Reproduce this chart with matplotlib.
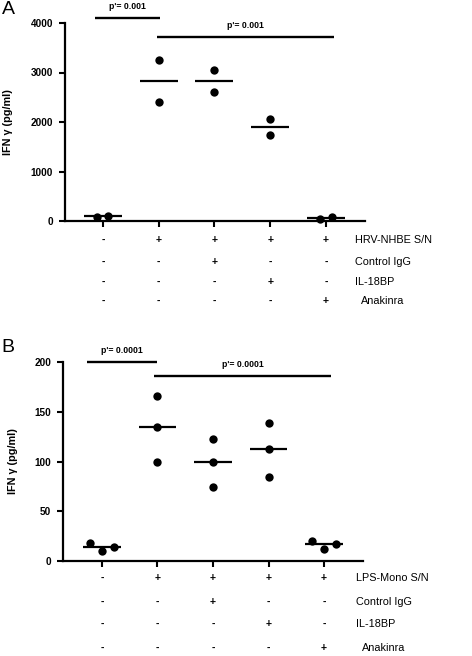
import numpy as np
import matplotlib
matplotlib.use("Agg")
import matplotlib.pyplot as plt
from matplotlib.transforms import blended_transform_factory

plt.rcParams['font.family'] = ['Liberation Sans', 'DejaVu Sans']

# ---------------- data ----------------
groups = [0, 1, 2, 3, 4]

a_values = [[90, 95], [3255, 2396], [3047, 2597], [2067, 1745], [40, 74]]
b_values = [[18, 10, 14], [166, 135, 100], [123, 100, 74], [139, 113, 84], [20, 12, 17]]

a_yticks = [0, 1000, 2000, 3000, 4000]
b_yticks = [0, 50, 100, 150, 200]

a_sig_x0 = [-0.15, 0.97]
a_sig_x1 = [1.03, 4.15]
a_sig_y = [4095, 3720]
a_sig_text = ["p'= 0.001", "p'= 0.001"]

b_sig_x0 = [-0.27, 0.94]
b_sig_x1 = [0.99, 4.13]
b_sig_y = [200, 186]
b_sig_text = ["p'= 0.0001", "p'= 0.0001"]

a_row_labels = ["HRV-NHBE S/N", "Control IgG", "IL-18BP", "Anakinra"]
b_row_labels = ["LPS-Mono S/N", "Control IgG", "IL-18BP", "Anakinra"]
row_stimulus = ['-', '+', '+', '+', '+']
row_igg = ['-', '-', '+', '-', '-']
row_il18 = ['-', '-', '-', '+', '-']
row_anakinra = ['-', '-', '-', '-', '+']

ylabel = "IFN γ (pg/ml)"

# ---------------- layout ----------------
W, H = 472, 656
fig = plt.figure(figsize=(W / 100, H / 100), dpi=100)


def px_box(left, top, right, bottom):
    return [left / W, 1 - bottom / H, (right - left) / W, (bottom - top) / H]


def draw_panel(ax, values, yticks, sx0, sx1, sy, stext, spread, ylab_x, xlim):
    ax.set_xlim(*xlim)
    ax.set_ylim(yticks[0], yticks[-1])
    for g, vals in zip(groups, values):
        n = len(vals)
        rng = max(vals) - min(vals)
        if rng < 0.06 * yticks[-1]:
            offs = np.linspace(-spread, spread, n)
        else:
            offs = np.zeros(n)
        ax.scatter(np.array([g] * n) + offs, vals, s=36, color='black',
                   zorder=3, clip_on=False, linewidths=0)
        med = np.median(vals)
        ax.plot([g - 0.34, g + 0.34], [med, med], color='black', lw=1.6,
                zorder=2, clip_on=False, solid_capstyle='butt')
    for x0, x1, y, t in zip(sx0, sx1, sy, stext):
        ax.plot([x0, x1], [y, y], color='black', lw=1.7, clip_on=False,
                solid_capstyle='butt')
        ax.annotate(t, xy=((x0 + x1) / 2, y), xytext=(0, 8.5),
                    textcoords='offset points', ha='center', va='center',
                    fontsize=6.3, fontweight='bold', annotation_clip=False)
    ax.set_xticks(groups)
    ax.set_xticklabels([])
    ax.set_yticks(yticks)
    ax.set_yticklabels([str(v) for v in yticks], fontsize=7.2, fontweight='bold')
    ax.tick_params(axis='both', length=4.5, width=1.5, direction='out', pad=4)
    for s in ['top', 'right']:
        ax.spines[s].set_visible(False)
    for s in ['left', 'bottom']:
        ax.spines[s].set_linewidth(1.6)
    ax.set_ylabel(ylabel, fontsize=7.8, fontweight='bold')
    ax.yaxis.set_label_coords(ylab_x, 0.5)


axA = fig.add_axes(px_box(65, 23, 365, 221))
draw_panel(axA, a_values, a_yticks, a_sig_x0, a_sig_x1, a_sig_y, a_sig_text,
           0.1, -0.172, (-0.68, 4.70))

axB = fig.add_axes(px_box(63, 362, 363, 561))
draw_panel(axB, b_values, b_yticks, b_sig_x0, b_sig_x1, b_sig_y, b_sig_text,
           0.22, -0.15, (-0.70, 4.70))

rows = [row_stimulus, row_igg, row_il18, row_anakinra]


def draw_table(ax, labels, row_px, label_px):
    tr = blended_transform_factory(ax.transData, fig.transFigure)
    for r, (signs, lab, ypx, lx) in enumerate(zip(rows, labels, row_px, label_px)):
        yf = 1 - ypx / H
        for g, sgn in zip(groups, signs):
            fig.text(g, yf, sgn, transform=tr, ha='center', va='center',
                     fontsize=7.5, fontweight='bold')
        fig.text(lx / W, yf, lab, ha='left', va='center', fontsize=7.8)


draw_table(axA, a_row_labels, [240, 262, 282, 301], [355, 355, 355, 361])
draw_table(axB, b_row_labels, [578, 602, 624, 648], [356, 356, 356, 362])

fig.text(2 / W, 1 - 1 / H, "A", fontsize=14, ha='left', va='top')
fig.text(1 / W, 1 - 339 / H, "B", fontsize=14, ha='left', va='top')

fig.savefig("out.png", dpi=100)
